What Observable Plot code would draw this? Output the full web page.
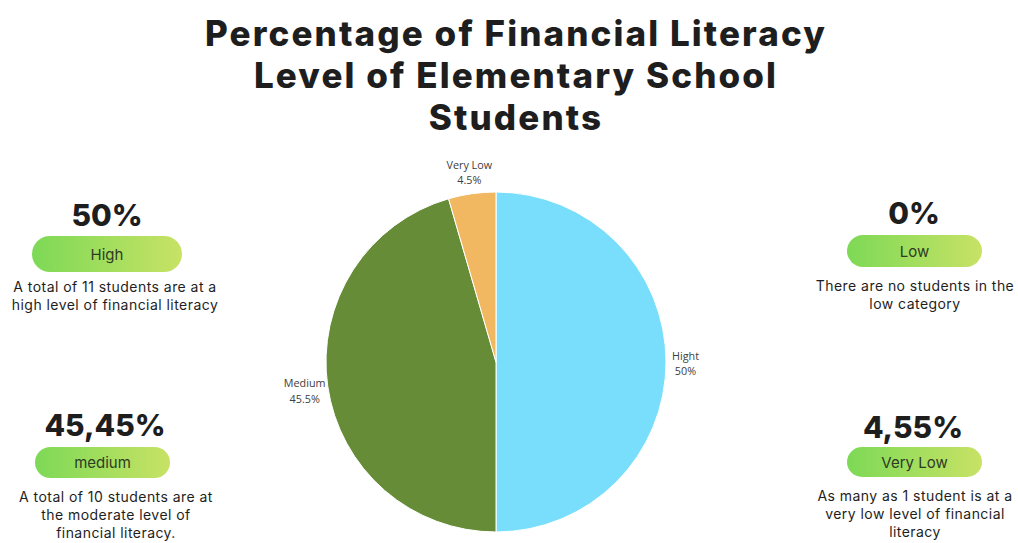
<!DOCTYPE html>
<html>
<head>
<meta charset="utf-8">
<script src="https://cdn.jsdelivr.net/npm/d3@7"></script>
<script src="https://cdn.jsdelivr.net/npm/@observablehq/plot@0.6"></script>
<style>
  html, body { margin: 0; padding: 0; background: #fff; }
  #wrap { position: relative; width: 1018px; height: 543px; overflow: hidden; background: #fff; }
  #title { position: absolute; top: 12px; left: 7px; width: 1018px; text-align: center;
    font-family: Inter, "DejaVu Sans", sans-serif; font-weight: 800; font-size: 35px;
    line-height: 42px; color: #1e1e1e; letter-spacing: 2.1px; margin: 0; }
  #chart { position: absolute; left: 0; top: 145px; }
  .panel { position: absolute; text-align: center; font-family: Inter, sans-serif; color: #1e1e1e; }
  .num { position: absolute; font-weight: 800; font-size: 30px; line-height: 34px; text-align: center; }
  .pill { position: absolute; border-radius: 18px; background: linear-gradient(90deg, #7dd956, #c8e265);
    font-size: 15px; color: #2e3a24; display: flex; align-items: center; justify-content: center; }
  .note { position: absolute; font-size: 14px; line-height: 18px; letter-spacing: 0.45px; color: #1e1e1e; text-align: center; }
</style>
</head>
<body>
<div id="wrap">
  <div id="title">Percentage of Financial Literacy<br>Level of Elementary School<br>Students</div>
  <div id="chart"></div>
</div>
<script>
// ---- data ----
const levels = ["Hight", "Medium", "Very Low"];
const percents = [50, 45.5, 4.5];
const sliceColors = ["#79defc", "#668c37", "#f2b861"];

const panelValues = ["50%", "45,45%", "0%", "4,55%"];
const panelLabels = ["High", "medium", "Low", "Very Low"];
const panelNotes = [
  "A total of 11 students are at a<br>high level of financial literacy",
  "A total of 10 students are at<br>the moderate level of<br>financial literacy.",
  "There are no students in the<br>low category",
  "As many as 1 student is at a<br>very low level of financial<br>literacy"
];

// ---- pie geometry via d3.pie ----
const slices = levels.map((level, i) => ({level, value: percents[i]}));
const arcs = d3.pie().sort(null).value(d => d.value)(slices);
const color = Plot.scale({color: {type: "ordinal", domain: levels, range: sliceColors}});

const R = 170;
const labels = arcs.map(a => {
  const mid = (a.startAngle + a.endAngle) / 2;
  const s = Math.sin(mid), c = Math.cos(mid);
  const text = `${a.data.level}\n${a.data.value}%`;
  const w = Math.max(a.data.level.length, String(a.data.value).length + 1) * 5.6;
  const h = 30;
  const dist = (R + 5 + Math.abs(s) * w / 2 + Math.abs(c) * h / 2) / R;
  return {text, x: s * dist, y: c * dist};
});

function pieMark(index, scales) {
  const cx = scales.x(0), cy = scales.y(0);
  const r = scales.x(1) - scales.x(0);
  const g = d3.create("svg:g").attr("transform", `translate(${cx},${cy})`);
  g.selectAll("path").data(arcs).join("path")
    .attr("d", d3.arc().innerRadius(0).outerRadius(r))
    .attr("fill", d => color.apply(d.data.level))
    .attr("stroke", "#ffffff")
    .attr("stroke-width", 1);
  return g.node();
}

const cy = 217;
const plot = Plot.plot({
  width: 1018,
  height: 398,
  margin: 0,
  x: {domain: [-1, 1], range: [496 - R, 496 + R], axis: null},
  y: {domain: [-1, 1], range: [cy + R, cy - R], axis: null},
  style: {background: "transparent", overflow: "visible"},
  marks: [
    pieMark,
    Plot.text(labels, {x: "x", y: "y", text: "text", fontSize: 10.8, lineHeight: 1.45,
      fill: "#404040", fontFamily: "'Open Sans', 'Liberation Sans', sans-serif", textAnchor: "middle"})
  ]
});
document.getElementById("chart").appendChild(plot);

// ---- side panels ----
const panelLayout = [
  {cx: 107, noteCx: 115, numY: 198, pill: [32, 236, 150, 36], noteY: 278},
  {cx: 105, noteCx: 116, numY: 408, pill: [35, 447, 135, 31], noteY: 488},
  {cx: 914, noteCx: 915, numY: 196, pill: [847, 235, 135, 32], noteY: 277},
  {cx: 913, noteCx: 915, numY: 410, pill: [847, 447, 135, 30], noteY: 487}
];
const wrap = document.getElementById("wrap");
const W = 260;
panelValues.forEach((v, i) => {
  const L = panelLayout[i];
  const num = document.createElement("div");
  num.className = "num"; num.textContent = v;
  Object.assign(num.style, {left: (L.cx - W / 2) + "px", width: W + "px", top: L.numY + "px", fontFamily: "Inter, sans-serif", color: "#1e1e1e"});
  const pill = document.createElement("div");
  pill.className = "pill"; pill.textContent = panelLabels[i];
  Object.assign(pill.style, {left: L.pill[0] + "px", top: L.pill[1] + "px", width: L.pill[2] + "px", height: L.pill[3] + "px", fontFamily: "Inter, sans-serif"});
  const note = document.createElement("div");
  note.className = "note"; note.innerHTML = panelNotes[i];
  Object.assign(note.style, {left: (L.noteCx - W / 2) + "px", width: W + "px", top: L.noteY + "px", fontFamily: "Inter, sans-serif"});
  wrap.append(num, pill, note);
});
</script>
</body>
</html>
